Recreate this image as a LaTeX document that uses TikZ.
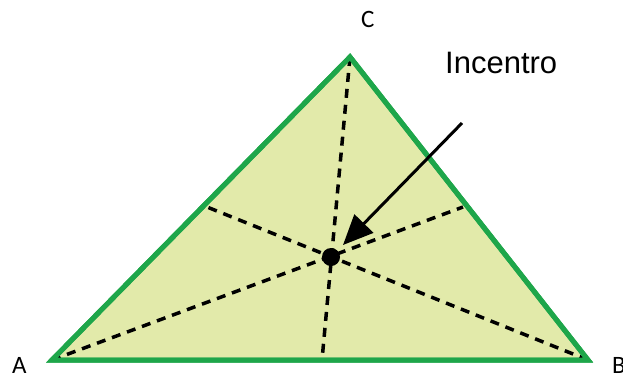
\documentclass[tikz,border=0pt]{standalone}
\usepackage{fontspec}
\setmainfont{Carlito}
\newfontfamily\arialf{Liberation Sans}
\newfontfamily\calf{Carlito}
\usetikzlibrary{arrows.meta}
\definecolor{edgegreen}{RGB}{30,166,74}
\definecolor{fillyel}{RGB}{226,234,170}
\newcommand{\vlfont}{\calf\fontsize{25}{29}\selectfont}
\tikzset{
  tri/.style={draw=edgegreen,line width=5pt,fill=fillyel,line join=miter},
  bisector/.style={draw=black,line width=3.5pt,dash pattern=on 9pt off 7pt},
  vlabel/.style={inner sep=0pt,anchor=base west},
  pointer/.style={draw=black,line width=3pt,-{Triangle[length=30pt,width=26pt]}}
}
\begin{document}
\begin{tikzpicture}[x=1pt,y=-1pt]
\useasboundingbox (0,0) rectangle (623,378);
\coordinate (A) at (52,360);
\coordinate (B) at (588,360);
\coordinate (C) at (350,57);
\coordinate (Da) at (463,207);
\coordinate (Db) at (207,207);
\coordinate (Dc) at (322,360);
\filldraw[tri] (A) -- (B) -- (C) -- cycle;
\draw[bisector] (A) -- (Da);
\draw[bisector] (B) -- (Db);
\draw[bisector] (C) -- (Dc);
\draw[tri,fill=none] (A) -- (B) -- (C) -- cycle;
\node[circle,fill=black,minimum size=18pt,inner sep=0pt] (I) at (331,257) {};
\coordinate (Ps) at (462,123);
\coordinate (Pe) at (343,245);
\draw[pointer] (Ps) -- (Pe);
\node[vlabel] (LA) at (12,373) {\vlfont A};
\node[vlabel] (LB) at (612,373) {\vlfont B};
\node[vlabel] (LC) at (361,27) {\vlfont C};
\node[inner sep=0pt,anchor=base west] (LI) at (445,73) {\arialf\fontsize{31}{36}\selectfont Incentro};
\end{tikzpicture}
\end{document}
